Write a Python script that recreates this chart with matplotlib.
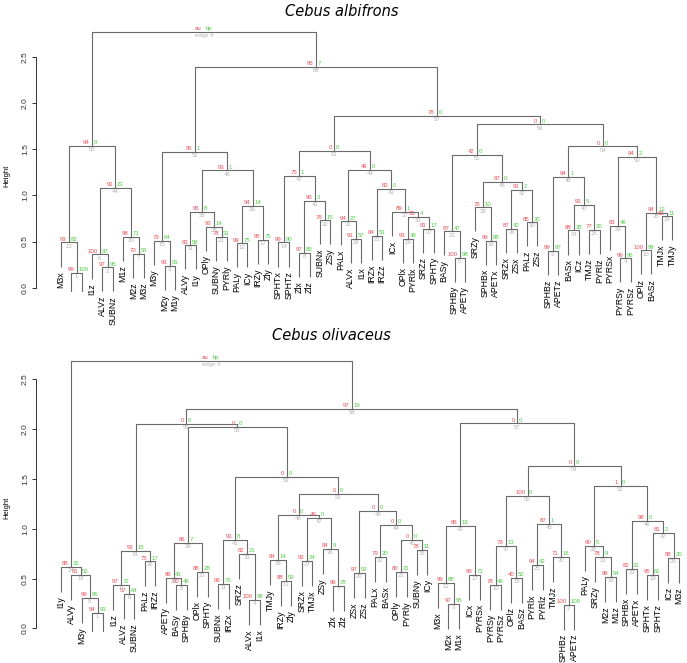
import matplotlib
matplotlib.use('Agg')
import matplotlib.pyplot as plt

# ---------------------------------------------------------------
# Cebus albifrons : merge k (edge #k) joins left[k-1] and right[k-1]
# (str = leaf, int = earlier edge #), at height[k-1], with au / bp
# ---------------------------------------------------------------
alb_left = ['M2x', 'ALVz', 'M2y', 'PYRSy', 'SPHBy', 'I1z', 'M2z', 'Zlx', 'SPHBz', 'OPlz',
            'ALVy', 'PALy', 'M3x', 'SPHTx', 'M3y', 'SPHBx', 'IRZy', 'ALVx', 'OPlx', 'M1z',
            'SUBNy', 'IRZx', 'BASy', 'BASx', 'TMJz', 'SRZx', 'SRZz', 'OPly', 'PYRSx', 'PALz',
            'PALx', 'SUBNx', 19, 'TMJx', 10, 11, 'ICx', 'SRZy', 12, 24,
            8, 26, 22, 6, 38, 9, 14, 36, 31, 29,
            23, 15, 47, 46, 13, 51, 53, 52, 55]
alb_right = ['M1x', 'SUBNz', 'M1y', 'PYRSz', 'APETy', 2, 'M3z', 'Zlz', 'APETz', 'BASz',
             'I1y', 'ICy', 1, 'SPHTz', 3, 'APETx', 'Zly', 'I1x', 'PYRlx', 7,
             'PYRly', 'IRZz', 5, 'ICz', 'PYRlz', 'ZSx', 'SPHTy', 21, 4, 'ZSz',
             18, 'ZSy', 27, 'TMJy', 34, 28, 33, 16, 17, 25,
             32, 30, 37, 20, 42, 40, 41, 39, 43, 35,
             45, 48, 49, 50, 44, 54, 56, 57, 58]
alb_height = [0.16, 0.22, 0.235, 0.32, 0.325, 0.36, 0.365, 0.38, 0.40, 0.405,
              0.46, 0.48, 0.49, 0.49, 0.51, 0.51, 0.52, 0.53, 0.53, 0.55,
              0.55, 0.56, 0.61, 0.62, 0.63, 0.64, 0.64, 0.66, 0.67, 0.71,
              0.72, 0.73, 0.77, 0.775, 0.81, 0.82, 0.82, 0.87, 0.89, 0.90,
              0.94, 1.06, 1.07, 1.08, 1.15, 1.20, 1.21, 1.27, 1.28, 1.42,
              1.44, 1.47, 1.48, 1.53, 1.54, 1.77, 1.86, 2.39, 2.77]
alb_au = [99, 97, 93, 99, 100, 100, 70, 97, 99, 100,
          83, 99, 93, 99, 79, 99, 95, 91, 93, 98,
          78, 84, 87, 88, 77, 87, 81, 93, 83, 85,
          94, 78, 91, 82, 94, 95, 89, 76, 94, 93,
          90, 91, 83, 91, 87, 94, 75, 93, 46, 94,
          42, 95, 0, 0, 94, 0, 78, 95]
alb_bp = [100, 95, 91, 96, 98, 97, 55, 89, 97, 98,
          58, 75, 82, 90, 64, 88, 75, 57, 49, 71,
          31, 53, 47, 35, 30, 42, 17, 14, 46, 30,
          27, 15, 4, 11, 12, 8, 1, 10, 14, 5,
          3, 2, 0, 23, 0, 1, 1, 1, 0, 2,
          0, 1, 0, 0, 8, 0, 0, 7]

# ---------------------------------------------------------------
# Cebus olivaceus
# ---------------------------------------------------------------
oli_left = ['M2y', 'SPHBz', 'M2x', 'ALVx', 'M3y', 'ALVz', 'Zlx', 'BASy', 'I1z', 'PYRSy',
            'SUBNx', 'M3x', 'IRZy', 'APETy', 'OPlz', 'M2z', 'ICx', 'ALVy', 'SPHTx', 'ZSx',
            'OPlx', 'OPly', 'SPHBx', 'I1y', 'PYRlx', 'PALz', 'SRZx', 'TMJy', 'ICz', 'TMJz',
            'SRZy', 'PALx', 'SRZz', 9, 'SUBNy', 'ZSy', 10, 'PALy', 14, 22,
            11, 19, 12, 32, 25, 23, 27, 28, 20, 37,
            48, 38, 41, 50, 39, 34, 43, 56, 24]
oli_right = ['M1y', 'APETz', 'M1x', 'I1x', 1, 'SUBNz', 'Zlz', 'SPHBy', 6, 'PYRSz',
             'IRZx', 3, 'Zly', 8, 'BASz', 'M1z', 'PYRSx', 5, 'SPHTz', 'ZSz',
             'SPHTy', 'PYRly', 'APETx', 18, 'PYRlz', 'IRZz', 'TMJx', 13, 'M3z', 2,
             16, 'BASx', 4, 26, 'ICy', 7, 15, 31, 21, 35,
             33, 29, 17, 40, 30, 42, 36, 47, 44, 45,
             49, 46, 51, 52, 53, 55, 54, 57, 58]
oli_height = [0.16, 0.24, 0.25, 0.29, 0.31, 0.35, 0.43, 0.44, 0.44, 0.44,
              0.45, 0.46, 0.48, 0.51, 0.51, 0.52, 0.54, 0.54, 0.54, 0.56,
              0.57, 0.57, 0.60, 0.62, 0.64, 0.675, 0.68, 0.69, 0.71, 0.72,
              0.72, 0.72, 0.75, 0.78, 0.79, 0.80, 0.83, 0.83, 0.86, 0.89,
              0.89, 0.96, 1.03, 1.04, 1.05, 1.08, 1.11, 1.14, 1.18, 1.33,
              1.35, 1.43, 1.52, 1.63, 2.02, 2.05, 2.055, 2.20, 2.68]
oli_au = [94, 100, 97, 100, 99, 57, 96, 80, 97, 78,
          99, 99, 88, 86, 40, 96, 99, 81, 95, 97,
          88, 80, 82, 88, 94, 75, 92, 84, 88, 71,
          78, 79, 82, 93, 78, 84, 79, 90, 86, 0,
          91, 81, 86, 0, 87, 98, 49, 0, 0, 100,
          0, 1, 0, 0, 0, 0, 0, 97]
oli_bp = [93, 100, 95, 98, 95, 64, 78, 46, 72, 49,
          79, 88, 59, 43, 52, 54, 71, 52, 61, 59,
          28, 21, 31, 33, 42, 17, 24, 14, 20, 16,
          9, 20, 21, 15, 11, 9, 13, 5, 7, 0,
          8, 2, 19, 0, 1, 0, 0, 0, 0, 0,
          0, 0, 0, 0, 0, 0, 0, 19]

LINE = '#6a6a6a'
AU_COL = '#e8505a'
BP_COL = '#4fcc45'
EDGE_COL = '#b4b4b4'
plt.rcParams['font.family'] = ['Liberation Sans', 'DejaVu Sans']


def draw_tree(ax, left, right, height, au, bp):
    n = len(height)
    hang = 0.1 * (max(height) - min(height))
    order = []

    def walk(node):
        if isinstance(node, str):
            order.append(node)
            return
        walk(left[node - 1])
        walk(right[node - 1])

    walk(n)
    leaf_x = {name: i + 1 for i, name in enumerate(order)}
    pos = {}

    def place(node, parent_h):
        if isinstance(node, str):
            return leaf_x[node], parent_h - hang
        if node in pos:
            return pos[node]
        h = height[node - 1]
        xl, yl = place(left[node - 1], h)
        xr, yr = place(right[node - 1], h)
        ax.plot([xl, xl, xr, xr], [yl, h, h, yr], color=LINE, lw=0.8,
                solid_capstyle='butt')
        for child, cx, cy in ((left[node - 1], xl, yl), (right[node - 1], xr, yr)):
            if isinstance(child, str):
                ax.annotate(child, (cx, cy), xytext=(0, -3.2), textcoords='offset points',
                            rotation=90, ha='center', va='top', fontsize=6.3,
                            color='black')
        pos[node] = ((xl + xr) / 2, h)
        return pos[node]

    place(n, height[-1])

    for k in range(1, n + 1):
        x, h = pos[k]
        if k == n:
            a_txt, b_txt, e_txt = 'au', 'bp', 'edge #'
        else:
            a_txt, b_txt, e_txt = str(au[k - 1]), str(bp[k - 1]), str(k)
        ax.annotate(a_txt, (x, h), xytext=(-1.7, 0.4), textcoords='offset points',
                    ha='right', va='bottom', fontsize=4.3, color=AU_COL)
        ax.annotate(b_txt, (x, h), xytext=(1.2, 0.4), textcoords='offset points',
                    ha='left', va='bottom', fontsize=4.3, color=BP_COL)
        ax.annotate(e_txt, (x, h), xytext=(0, -0.9), textcoords='offset points',
                    ha='center', va='top', fontsize=4.3, color=EDGE_COL)


def style_axes(ax):
    for s in ('top', 'right', 'bottom'):
        ax.spines[s].set_visible(False)
    ax.spines['left'].set_position(('outward', 3))
    ax.spines['left'].set_bounds(0, 2.5)
    ax.spines['left'].set_color('#333333')
    ax.spines['left'].set_linewidth(0.7)
    ax.set_yticks([0, 0.5, 1.0, 1.5, 2.0, 2.5])
    ax.set_yticklabels(['0.0', '0.5', '1.0', '1.5', '2.0', '2.5'])
    ax.tick_params(axis='y', labelsize=6, length=3, width=0.7, pad=2,
                   colors='#333333')
    for lab in ax.get_yticklabels():
        lab.set_rotation(90)
        lab.set_va('center')
    ax.set_xticks([])
    ax.set_ylabel('Height', fontsize=5.5)


fig = plt.figure(figsize=(6.87, 6.63), dpi=100, facecolor='white')

ax1 = fig.add_axes([0.0582, 0.5596, 0.9316, 0.3982])
draw_tree(ax1, alb_left, alb_right, alb_height, alb_au, alb_bp)
ax1.set_xlim(-1.03, 60.77)
ax1.set_ylim(-0.0466, 2.813)
style_axes(ax1)
ax1.yaxis.set_label_coords(-0.046, 0.44)

ax2 = fig.add_axes([0.0582, 0.0468, 0.9374, 0.4178])
draw_tree(ax2, oli_left, oli_right, oli_height, oli_au, oli_bp)
ax2.set_xlim(-1.006, 60.5)
ax2.set_ylim(-0.035, 2.74)
style_axes(ax2)
ax2.yaxis.set_label_coords(-0.046, 0.45)

fig.text(342 / 687, 1 - 11 / 663, 'Cebus albifrons', ha='center', va='center',
         fontsize=10.5, style='italic', family='DejaVu Sans')
fig.text(331 / 687, 1 - 336 / 663, 'Cebus olivaceus', ha='center', va='center',
         fontsize=10.5, style='italic', family='DejaVu Sans')

fig.savefig('out.png', dpi=100, facecolor='white')
